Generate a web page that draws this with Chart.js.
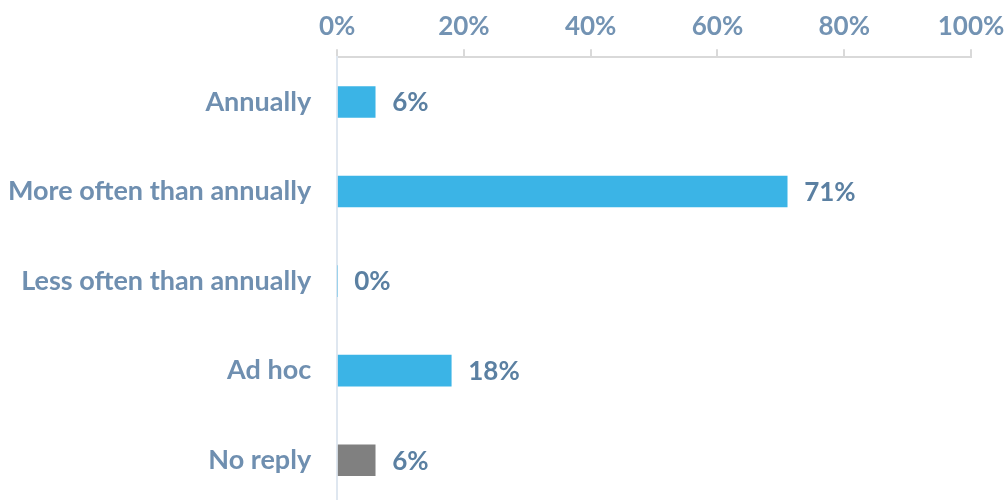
<!DOCTYPE html>
<html>
<head>
<meta charset="utf-8">
<script src="https://cdn.jsdelivr.net/npm/chart.js@4/dist/chart.umd.min.js"></script>
<style>
  html, body { margin: 0; padding: 0; background: #fff; overflow: hidden; }
  canvas { display: block; }
</style>
</head>
<body>
<canvas id="chart" width="1007" height="505"></canvas>
<script>
const categories = ['Annually', 'More often than annually', 'Less often than annually', 'Ad hoc', 'No reply'];
const shares = [6, 71, 0, 18, 6];
const barColors = ['#3bb4e6', '#3bb4e6', '#3bb4e6', '#3bb4e6', '#808080'];
const tickValues = [0, 20, 40, 60, 80, 100];

// draws the "xx%" text after each bar
const valueLabels = {
    id: 'valueLabels',
    afterDatasetsDraw(chart) {
        const ctx = chart.ctx;
        const meta = chart.getDatasetMeta(0);
        ctx.save();
        ctx.font = 'bold 26px Lato';
        ctx.fillStyle = '#5b80a2';
        ctx.textAlign = 'left';
        ctx.textBaseline = 'middle';
        meta.data.forEach((bar, i) => {
            ctx.fillText(shares[i] + '%', bar.x + 17, bar.y + 1);
        });
        ctx.restore();
    }
};

const ctx = document.getElementById('chart').getContext('2d');
new Chart(ctx, {
    type: 'bar',
    data: {
        labels: categories,
        datasets: [{
            data: shares,
            backgroundColor: barColors,
            barThickness: 31,
            borderWidth: 0
        }]
    },
    options: {
        indexAxis: 'y',
        responsive: false,
        animation: false,
        layout: { padding: { left: 8, right: 36, top: 4, bottom: 0 } },
        plugins: {
            legend: { display: false },
            tooltip: { enabled: false }
        },
        scales: {
            x: {
                position: 'top',
                min: 0,
                max: 100,
                afterBuildTicks: (axis) => { axis.ticks = tickValues.map(v => ({ value: v })); },
                afterFit: (axis) => { axis.paddingLeft = 0; axis.paddingRight = 0; },
                grid: { drawOnChartArea: false, tickLength: 8, color: '#d9d9d9', lineWidth: 2 },
                border: { display: true, color: '#d9d9d9', width: 2 },
                ticks: {
                    padding: 7,
                    color: '#7393b3',
                    font: { family: 'Lato', size: 26, weight: 'bold' },
                    callback: (v) => v + '%'
                }
            },
            y: {
                afterFit: (axis) => { axis.paddingTop = 0; axis.paddingBottom = 0; },
                grid: { display: false, tickLength: 26 },
                border: { display: true, color: '#dfe7f0', width: 2 },
                ticks: {
                    padding: 0,
                    color: '#6f8fb0',
                    font: { family: 'Lato', size: 27, weight: 'bold' }
                }
            }
        }
    },
    plugins: [valueLabels]
});
</script>
</body>
</html>
